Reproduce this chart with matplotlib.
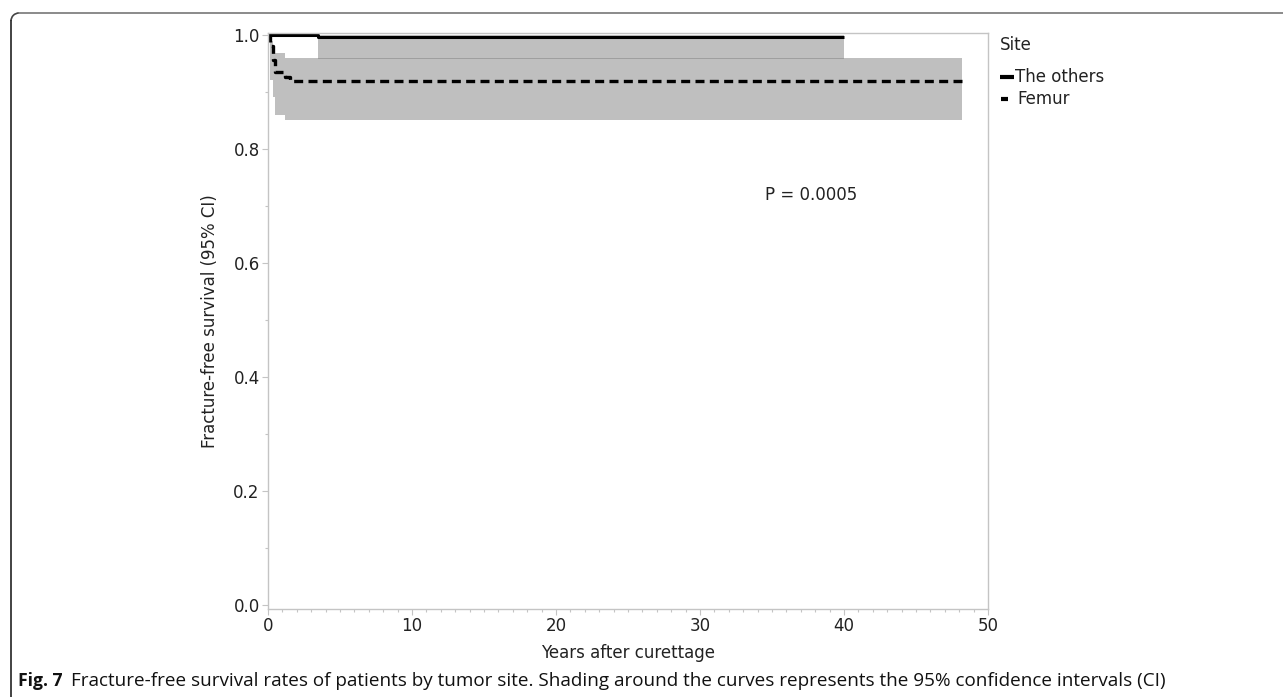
import numpy as np
import matplotlib
matplotlib.use("Agg")
import matplotlib.pyplot as plt
from matplotlib.lines import Line2D
from matplotlib.patches import Arc

# ---- data ----
others_t = [0.0, 3.5, 40.0]
others_s = [1.0, 0.996, 0.996]
others_ci_t = [3.5, 40.0]
others_ci_lo = [0.958, 0.958]
others_ci_hi = [1.0, 1.0]

femur_t = [0.0, 0.14, 0.35, 0.5, 1.2, 1.5, 48.2]
femur_s = [1.0, 0.981, 0.956, 0.935, 0.926, 0.919, 0.919]
femur_ci_t = [0.0, 0.14, 0.35, 0.5, 1.2, 48.2]
femur_ci_lo = [0.995, 0.921, 0.891, 0.86, 0.851, 0.851]
femur_ci_hi = [1.0, 0.99, 0.968, 0.968, 0.96, 0.96]

x_ticks = [0, 10, 20, 30, 40, 50]
y_ticks = [0.0, 0.2, 0.4, 0.6, 0.8, 1.0]
legend_title = "Site"
legend_labels = ["The others", "Femur"]
p_text = "P = 0.0005"

W, H = 1283, 697
plt.rcParams['font.family'] = ['DejaVu Sans']
fig = plt.figure(figsize=(W / 100, H / 100), dpi=100)

FS = 12
TC = '#222222'

def fx(px):
    return px / W

def fy(py):
    return 1 - py / H

ax = fig.add_axes([fx(268), fy(609), fx(988) - fx(268), (609 - 33) / H])

band_color = '#808080'
ax.fill_between(femur_ci_t, femur_ci_lo, femur_ci_hi, step='post',
                color=band_color, alpha=0.5, linewidth=0)
ax.fill_between(others_ci_t, others_ci_lo, others_ci_hi, step='post',
                color=band_color, alpha=0.5, linewidth=0)

ax.step(others_t, others_s, where='post', color='black', lw=2.2,
        solid_capstyle='butt')
ax.step(femur_t, femur_s, where='post', color='black', lw=2.4,
        linestyle=(0, (2.7, 1.6)), dash_capstyle='butt')

ax.set_xlim(0, 50)
ax.set_ylim(-0.007, 1.0035)
ax.set_xticks(x_ticks)
ax.set_xticklabels([str(v) for v in x_ticks])
ax.set_yticks(y_ticks)
ax.set_yticklabels([f"{v:.1f}" for v in y_ticks])
ax.set_xticks(np.arange(0, 51, 1), minor=True)
ax.set_yticks(np.arange(0, 1.01, 0.1), minor=True)

for s in ax.spines.values():
    s.set_color('#c4c4c4')
    s.set_linewidth(1.0)
ax.tick_params(which='major', direction='out', length=4, width=0.8,
               color='#c4c4c4', labelsize=FS, labelcolor=TC, pad=2)
ax.tick_params(which='minor', direction='out', length=2.5, width=0.8,
               color='#c4c4c4')

ax.set_xlabel("Years after curettage", fontsize=FS, color=TC, labelpad=6)
ax.set_ylabel("Fracture-free survival (95% CI)", fontsize=FS,
              color=TC, labelpad=10)

ax.text(34.5, 0.719, p_text, fontsize=FS, color=TC, va='center', ha='left')

# legend (manual)
fig.text(fx(1000), fy(45), legend_title, fontsize=FS, color=TC,
         va='center', ha='left')
fig.add_artist(Line2D([fx(1000), fx(1014)], [fy(77), fy(77)], color='black',
                      lw=3.0, solid_capstyle='butt'))
fig.text(fx(1015), fy(77), legend_labels[0], fontsize=FS, color=TC,
         va='center', ha='left')
fig.add_artist(Line2D([fx(1001), fx(1008)], [fy(99), fy(99)], color='black',
                      lw=3.0, solid_capstyle='butt'))
fig.text(fx(1017), fy(99), legend_labels[1], fontsize=FS, color=TC,
         va='center', ha='left')

# caption
fig.text(fx(18), fy(681), "Fig. 7", fontsize=12.6, fontweight='bold',
         family='Open Sans', va='center', ha='left', color='#111111')
fig.text(fx(71), fy(681),
         "Fracture-free survival rates of patients by tumor site. Shading around the curves represents the 95% confidence intervals (CI)",
         fontsize=13.6, family='Open Sans', va='center', ha='left', color='#111111')

# page frame
r = 8
fig.add_artist(Line2D([fx(11), fx(11)], [fy(697), fy(13 + r)], color='#222222', lw=1.2))
fig.add_artist(Line2D([fx(11 + r), fx(W)], [fy(13), fy(13)], color='#777777', lw=1.2))
arc = Arc((fx(11 + r), fy(13 + r)), 2 * r / W, 2 * r / H, theta1=90, theta2=180,
          transform=fig.transFigure, color='#444444', lw=1.2)
fig.add_artist(arc)

fig.savefig("out.png", dpi=100)
